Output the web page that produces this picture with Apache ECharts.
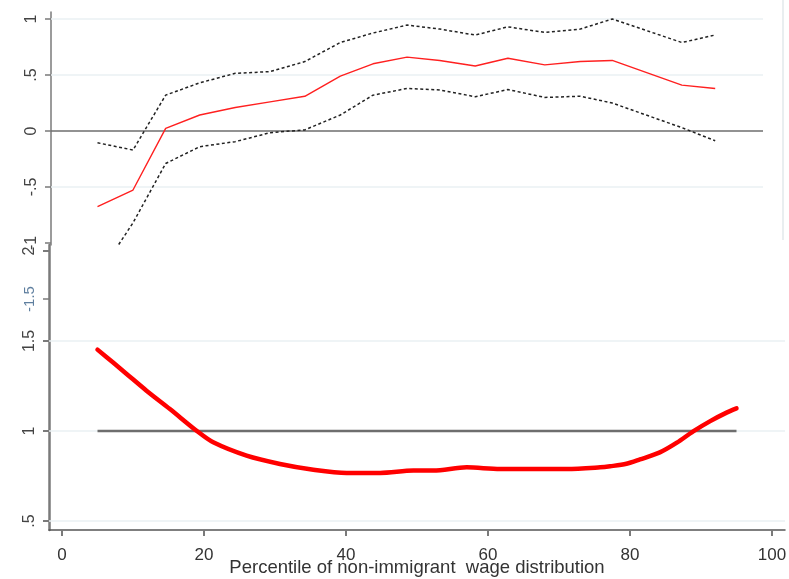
<!DOCTYPE html>
<html>
<head>
<meta charset="utf-8">
<script src="https://cdn.jsdelivr.net/npm/echarts@6/dist/echarts.min.js"></script>
<style>
  html, body { margin: 0; padding: 0; background: #fff; }
  #chart { width: 789px; height: 579px; }
</style>
</head>
<body>
<div id="chart"></div>
<script>
// Upper panel: point estimates with confidence band, by wage percentile
const topX        = [5, 10, 14.6, 19.4, 24.4, 29.3, 34.2, 39.2, 43.8, 48.6, 53.2, 58.2, 62.8, 68, 73, 77.5, 87.3, 92];
const topEstimate = [-0.676, -0.527, 0.024, 0.143, 0.21, 0.26, 0.31, 0.49, 0.60, 0.66, 0.63, 0.58, 0.65, 0.59, 0.62, 0.63, 0.41, 0.38];
const topUpper    = [-0.105, -0.17, 0.32, 0.43, 0.515, 0.53, 0.62, 0.79, 0.875, 0.946, 0.91, 0.857, 0.93, 0.88, 0.91, 1.0, 0.79, 0.857];
const topLower    = [-1.3, -0.82, -0.29, -0.14, -0.095, -0.015, 0.01, 0.143, 0.32, 0.38, 0.366, 0.306, 0.37, 0.30, 0.31, 0.25, 0.03, -0.087];

// Lower panel: smoothed ratio across the wage distribution
const bottomX     = [5, 7.2, 9.1, 11.9, 15.2, 19.0, 21.3, 26, 30.7, 35.4, 40.1, 44.8, 49.5, 52.3, 57, 61.7, 66.4, 71.1, 75.8, 77.2, 79.5, 81.4, 84.2, 86.6, 88.9, 91.3, 93.6, 95];
const bottomRatio = [1.452, 1.38, 1.317, 1.224, 1.122, 1.0, 0.937, 0.863, 0.817, 0.785, 0.767, 0.767, 0.78, 0.78, 0.798, 0.789, 0.789, 0.789, 0.798, 0.804, 0.818, 0.842, 0.881, 0.935, 0.998, 1.055, 1.102, 1.126];
const refLineX    = [5, 95];
const refLineY    = 1;

// Tick values
const xTicks       = [0, 20, 40, 60, 80, 100];
const topYTicks    = [-1, -0.5, 0, 0.5, 1];
const bottomYTicks = [0.5, 1, 1.5, 2];
const xTitle = 'Percentile of non-immigrant  wage distribution';

const FONT = '"Liberation Sans", Arial, sans-serif';
const AXIS_GRAY = '#7a7a7a';
const GRID_LIGHT = '#eaf0f3';

function stataNum(v) {
  // Stata-style labels: ".5", "-.5"
  return String(v).replace(/^0\./, '.').replace(/^-0\./, '-.');
}

function zip(xs, ys) { return xs.map((x, i) => [x, ys[i]]); }

const chart = echarts.init(document.getElementById('chart'), null, { renderer: 'canvas' });

const option = {
  animation: false,
  backgroundColor: '#fff',
  grid: [
    // lower panel
    { left: 49, top: 245, width: 736, height: 285, containLabel: false, outerBoundsMode: 'none' },
    // upper panel
    { left: 51, top: 12, width: 712, height: 233, containLabel: false, outerBoundsMode: 'none' }
  ],
  xAxis: [
    {
      gridIndex: 0, type: 'value',
      min: -13 / 7.1, max: 100 + 13 / 7.1,
      axisLine: { show: true, onZero: false, lineStyle: { color: '#555', width: 1.5 } },
      axisTick: { show: true, length: 6, customValues: xTicks, lineStyle: { color: AXIS_GRAY, width: 2 } },
      axisLabel: { customValues: xTicks, color: '#333', fontFamily: FONT, fontSize: 17, margin: 17 },
      splitLine: { show: false },
      name: xTitle, nameLocation: 'middle', nameGap: 28, nameMoveOverlap: false,
      nameTextStyle: { color: '#333', fontFamily: FONT, fontSize: 18.5 }
    },
    {
      gridIndex: 1, type: 'value',
      min: -11 / 7.1, max: (763 - 62) / 7.1,
      show: false
    }
  ],
  yAxis: [
    {
      gridIndex: 0, type: 'value',
      min: 0.5 - 9 / 180, max: 2 + 6 / 180,
      axisLine: { show: true, onZero: false, lineStyle: { color: AXIS_GRAY, width: 2.5 } },
      axisTick: { show: true, length: 6, customValues: bottomYTicks, lineStyle: { color: AXIS_GRAY, width: 2 } },
      axisLabel: { customValues: bottomYTicks, rotate: 90, color: '#444', fontFamily: FONT, fontSize: 16, margin: 11, formatter: stataNum },
      splitLine: { show: false }
    },
    {
      gridIndex: 1, type: 'value',
      min: -1 - 2 / 112, max: 1 + 7 / 112,
      axisLine: { show: true, onZero: false, lineStyle: { color: AXIS_GRAY, width: 1.5 } },
      axisTick: { show: true, length: 6, customValues: topYTicks, lineStyle: { color: AXIS_GRAY, width: 1.5 } },
      axisLabel: { customValues: topYTicks, rotate: 90, color: '#444', fontFamily: FONT, fontSize: 16, margin: 11, formatter: stataNum },
      splitLine: { show: false }
    }
  ],
  graphic: [
    // thin frame edge on the right of the upper panel
    { type: 'line', shape: { x1: 783, y1: 0, x2: 783, y2: 240 }, style: { stroke: '#e9eef0', lineWidth: 2 }, z: 1 },
    // stray tick and label on the lower axis
    { type: 'line', shape: { x1: 43, y1: 299, x2: 49, y2: 299 }, style: { stroke: AXIS_GRAY, lineWidth: 1.5 }, z: 10 },
    { type: 'text', x: 30, y: 299, rotation: Math.PI / 2,
      style: { text: '-1.5', fill: '#5f7f9f', font: '15px ' + FONT, align: 'center', verticalAlign: 'middle' }, z: 10 }
  ],
  series: [
    // lower panel grid lines
    {
      type: 'line', xAxisIndex: 0, yAxisIndex: 0, data: [], silent: true, z: 1,
      markLine: {
        silent: true, symbol: 'none', label: { show: false }, z: 1,
        lineStyle: { color: GRID_LIGHT, width: 1.5, type: 'solid' },
        data: bottomYTicks.filter(v => v < 2).map(v => ({ yAxis: v }))
      }
    },
    // lower panel reference line at 1
    {
      type: 'line', xAxisIndex: 0, yAxisIndex: 0, silent: true,
      data: refLineX.map(x => [x, refLineY]),
      symbol: 'none', lineStyle: { color: '#6e6e6e', width: 2.5 }, z: 3
    },
    // lower panel ratio curve
    {
      type: 'line', xAxisIndex: 0, yAxisIndex: 0,
      data: zip(bottomX, bottomRatio),
      symbol: 'none', smooth: 0.3,
      lineStyle: { color: '#ff0000', width: 4.5, cap: 'round', join: 'round' }, z: 4
    },
    // upper panel grid lines and zero line
    {
      type: 'line', xAxisIndex: 1, yAxisIndex: 1, data: [], silent: true, z: 1,
      markLine: {
        silent: true, symbol: 'none', label: { show: false }, z: 1,
        data: [
          ...topYTicks.filter(v => v !== 0 && v !== -1).map(v => ({ yAxis: v, lineStyle: { color: GRID_LIGHT, width: 1.5, type: 'solid' } })),
          { yAxis: 0, lineStyle: { color: '#6e6e6e', width: 1.5, type: 'solid' } }
        ]
      }
    },
    // upper panel confidence bounds
    {
      type: 'line', xAxisIndex: 1, yAxisIndex: 1,
      data: zip(topX, topUpper), symbol: 'none', clip: true,
      lineStyle: { color: '#222', width: 1.5, type: [3, 2.5] }, z: 4
    },
    {
      type: 'line', xAxisIndex: 1, yAxisIndex: 1,
      data: zip(topX, topLower), symbol: 'none', clip: true,
      lineStyle: { color: '#222', width: 1.5, type: [3, 2.5] }, z: 4
    },
    // upper panel point estimates
    {
      type: 'line', xAxisIndex: 1, yAxisIndex: 1,
      data: zip(topX, topEstimate), symbol: 'none',
      lineStyle: { color: '#ff2020', width: 1.4 }, z: 5
    }
  ]
};

chart.setOption(option);
</script>
</body>
</html>
